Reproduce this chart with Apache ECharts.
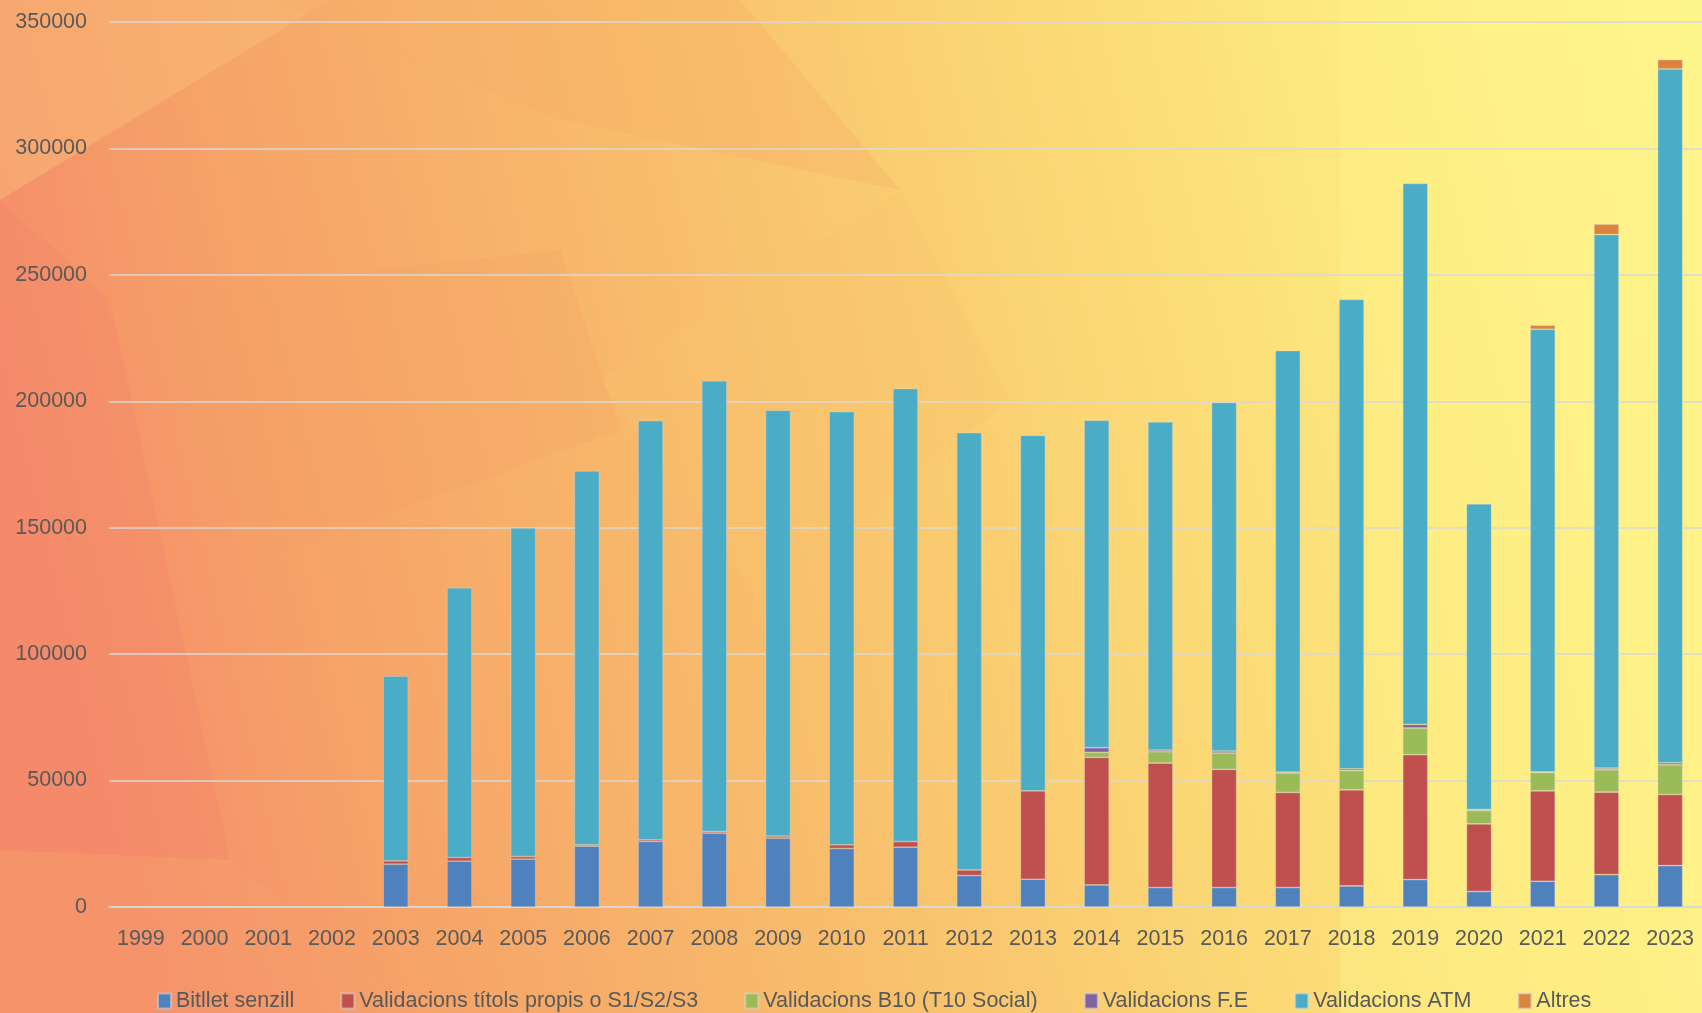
<!DOCTYPE html>
<html>
<head>
<meta charset="utf-8">
<title>Validacions</title>
<script src="https://cdn.jsdelivr.net/npm/echarts@6/dist/echarts.min.js"></script>
<style>
  html, body { margin: 0; padding: 0; }
  #chart { width: 1702px; height: 1013px; }
</style>
</head>
<body>
<div id="chart"></div>
<script>
// anys
var years = ['1999','2000','2001','2002','2003','2004','2005','2006','2007','2008','2009','2010','2011','2012','2013','2014','2015','2016','2017','2018','2019','2020','2021','2022','2023'];

var bitllet   = [null,null,null,null,16940,18120,18930,24080,25930,29240,27250,23140,23650,12440,10970,8720,7690,7690,7690,8320,10860,6100,10180,12800,16360];
var titols    = [null,null,null,null,1310,1450,1030,520,660,650,790,1460,2250,2220,34990,50470,49240,46750,37630,38040,49360,26780,35780,32640,28130];
var b10       = [null,null,null,null,null,null,null,null,null,null,null,null,null,null,null,1980,4480,6460,7650,7680,10570,5310,7250,8840,11770];
var fe        = [null,null,null,null,null,null,null,null,null,null,null,null,null,null,null,1830,670,790,400,640,1440,400,270,660,790];
var atm       = [null,null,null,null,73030,106670,129920,147840,165770,178180,168400,171320,179130,172950,140580,129480,129760,137800,166700,185580,213910,120790,175020,211010,274360];
var altres    = [null,null,null,null,null,null,null,null,null,null,null,null,null,null,null,null,null,null,null,null,null,null,1580,4120,3710];

var seriesNames = ['Bitllet senzill','Validacions títols propis o S1/S2/S3','Validacions B10 (T10 Social)','Validacions F.E','Validacions ATM','Altres'];
var seriesData  = [bitllet, titols, b10, fe, atm, altres];
var colors      = ['#4F81BD','#C0504D','#9BBB59','#8064A2','#4BACC6','#DB843D'];

var FONT = '"Liberation Sans", Arial, sans-serif';
var TEXT = '#595959';

// fons: facetes semitransparents
function facet(points, fill, opacity){
    return {
        type: 'polygon',
        z: 0,
        silent: true,
        shape: { points: points },
        style: { fill: fill, opacity: opacity }
    };
}

var myChart = echarts.init(document.getElementById('chart'));
var option = {
    animation: false,
    backgroundColor: {
        type: 'linear', x: 0, y: 0.4, x2: 1, y2: 0,
        colorStops: [
            { offset: 0,    color: '#F58C6B' },
            { offset: 0.15, color: '#F6A268' },
            { offset: 0.4,  color: '#F8BE6C' },
            { offset: 0.6,  color: '#FBD674' },
            { offset: 0.8,  color: '#FDEA80' },
            { offset: 1,    color: '#FEF58C' }
        ]
    },
    graphic: [
        facet([[0,0],[330,0],[0,200]], '#F9BC78', 0.5),
        facet([[270,0],[740,0],[900,190],[560,120]], '#F6AE66', 0.35),
        facet([[600,380],[900,190],[1010,400],[760,600]], '#F9C46E', 0.3),
        facet([[0,200],[110,300],[230,860],[0,850]], '#F3866A', 0.35),
        facet([[0,850],[230,860],[420,1013],[0,1013]], '#F6A06C', 0.35),
        facet([[100,300],[560,250],[620,430],[260,560]], '#F5A064', 0.25),
        facet([[1340,0],[1702,0],[1702,1013],[1340,1013]], '#FFF58C', 0.35)
    ],
    grid: {
        left: 109,
        right: -3,
        top: 22,
        bottom: 106
    },
    legend: {
        data: seriesNames,
        left: 157,
        top: 990,
        padding: 0,
        itemGap: 46,
        itemWidth: 13,
        itemHeight: 15,
        icon: 'rect',
        textStyle: { color: TEXT, fontSize: 21.5, fontFamily: FONT }
    },
    xAxis: {
        type: 'category',
        data: years,
        axisLine: { lineStyle: { color: '#D9D9D9', width: 1.5 } },
        axisTick: { show: false },
        axisLabel: { color: TEXT, fontSize: 21.5, fontFamily: FONT, margin: 21 }
    },
    yAxis: {
        type: 'value',
        z: 1,
        min: 0,
        max: 350000,
        interval: 50000,
        axisLine: { show: false },
        axisTick: { show: false },
        splitLine: { lineStyle: { color: '#D9D9D9', width: 1.5 } },
        axisLabel: {
            color: TEXT, fontSize: 21.5, fontFamily: FONT, margin: 22,
            formatter: function(v){ return String(v); }
        }
    },
    series: seriesNames.map(function(name, i){
        return {
            name: name,
            type: 'bar',
            stack: 'total',
            barWidth: 25,
            itemStyle: {
                color: colors[i],
                borderColor: 'rgba(215,215,215,0.55)',
                borderWidth: 0.7
            },
            data: seriesData[i]
        };
    })
};
myChart.setOption(option);
</script>
</body>
</html>
